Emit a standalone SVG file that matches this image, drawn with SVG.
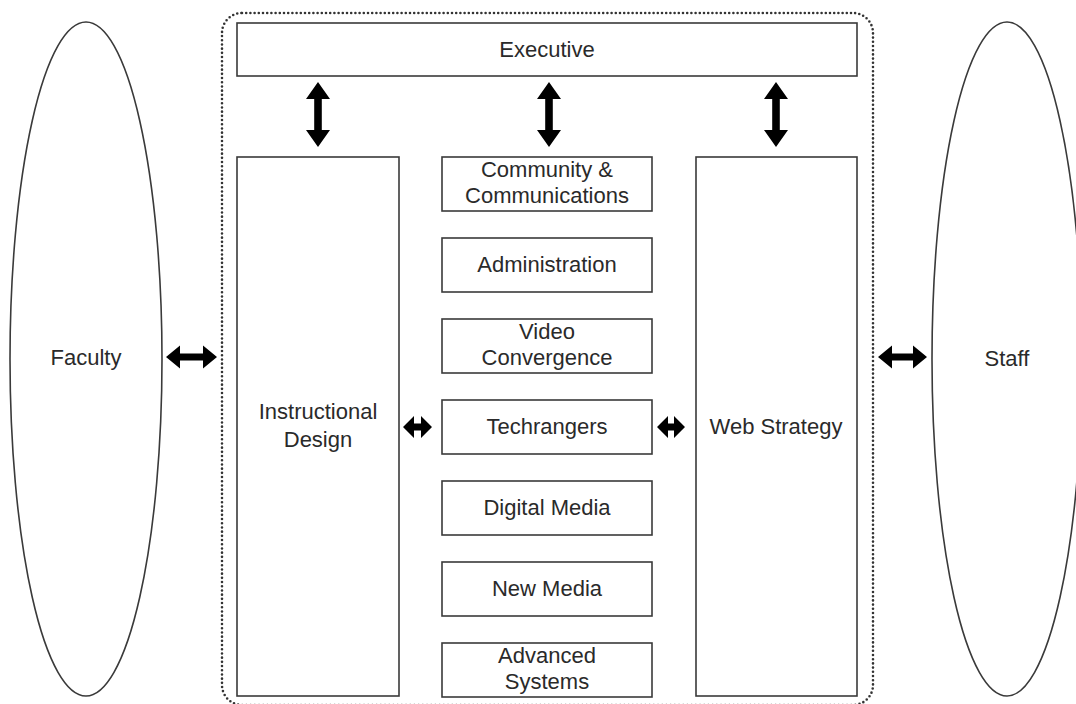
<svg xmlns="http://www.w3.org/2000/svg" width="1076" height="704" viewBox="0 0 1076 704">
<style>
.box{fill:#fff;stroke:#3a3a3a;stroke-width:1.6}
.ell{fill:#fff;stroke:#3a3a3a;stroke-width:1.6}
.lbl{font-family:"Liberation Sans",Arial,sans-serif;font-size:22px;fill:#2a2a2a;text-anchor:middle}
.arr{fill:#000}
.cont{fill:none;stroke:#333;stroke-width:2.6;stroke-dasharray:0 4.2;stroke-linecap:round}
</style>
<rect width="1076" height="704" fill="#fff"/>
<g id="container"><rect class="cont" x="222" y="13" width="651" height="692" rx="20" ry="20"/></g>
<g id="faculty"><ellipse class="ell" cx="86" cy="359" rx="76" ry="337"/><text class="lbl" x="86" y="365">Faculty</text></g>
<g id="staff"><ellipse class="ell" cx="1007" cy="359" rx="75" ry="337"/><text class="lbl" x="1007" y="366">Staff</text></g>
<g id="executive"><rect class="box" x="237" y="23" width="620" height="53"/><text class="lbl" x="547" y="57">Executive</text></g>
<g id="instructional-design"><rect class="box" x="237" y="157" width="162" height="539"/><text class="lbl" x="318" y="419">Instructional</text><text class="lbl" x="318" y="447">Design</text></g>
<g id="web-strategy"><rect class="box" x="696" y="157" width="161" height="539"/><text class="lbl" x="776" y="434">Web Strategy</text></g>
<g id="community"><rect class="box" x="442" y="157" width="210" height="54"/><text class="lbl" x="547" y="177">Community &amp;</text><text class="lbl" x="547" y="203">Communications</text></g>
<g id="administration"><rect class="box" x="442" y="238" width="210" height="54"/><text class="lbl" x="547" y="272">Administration</text></g>
<g id="video"><rect class="box" x="442" y="319" width="210" height="54"/><text class="lbl" x="547" y="339">Video</text><text class="lbl" x="547" y="365">Convergence</text></g>
<g id="techrangers"><rect class="box" x="442" y="400" width="210" height="54"/><text class="lbl" x="547" y="434">Techrangers</text></g>
<g id="digital-media"><rect class="box" x="442" y="481" width="210" height="54"/><text class="lbl" x="547" y="515">Digital Media</text></g>
<g id="new-media"><rect class="box" x="442" y="562" width="210" height="54"/><text class="lbl" x="547" y="596">New Media</text></g>
<g id="advanced-systems"><rect class="box" x="442" y="643" width="210" height="54"/><text class="lbl" x="547" y="663">Advanced</text><text class="lbl" x="547" y="689">Systems</text></g>
<g id="connectors">
<polygon class="arr" points="318,82 330,99 321.8,99 321.8,130 330,130 318,147 306,130 314.2,130 314.2,99 306,99"/>
<polygon class="arr" points="549,82 561,99 552.8,99 552.8,130 561,130 549,147 537,130 545.2,130 545.2,99 537,99"/>
<polygon class="arr" points="776,82 788,99 779.8,99 779.8,130 788,130 776,147 764,130 772.2,130 772.2,99 764,99"/>
<polygon class="arr" points="166,357 180,345.5 180,353.5 203,353.5 203,345.5 217,357 203,368.5 203,360.5 180,360.5 180,368.5"/>
<polygon class="arr" points="878,357 892,345.5 892,353.5 913,353.5 913,345.5 927,357 913,368.5 913,360.5 892,360.5 892,368.5"/>
<polygon class="arr" points="403,427 414,416 414,423.5 421,423.5 421,416 432,427 421,438 421,430.5 414,430.5 414,438"/>
<polygon class="arr" points="657,427 668,416 668,423.5 674,423.5 674,416 685,427 674,438 674,430.5 668,430.5 668,438"/>
</g>
</svg>
